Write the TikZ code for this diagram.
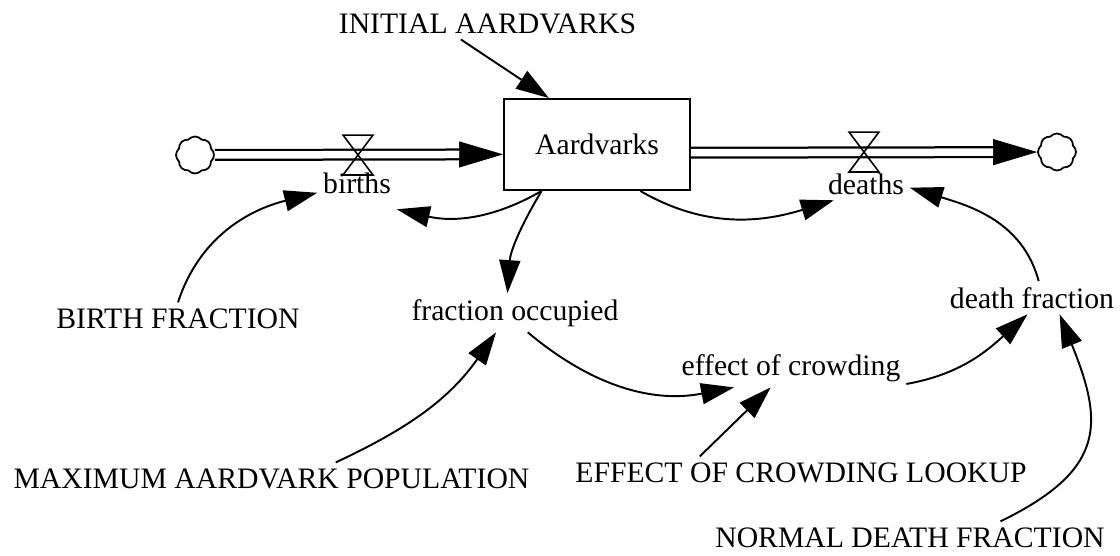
\documentclass[tikz,border=0pt]{standalone}
\usepackage{fontspec}
\setmainfont{Liberation Serif}
\usetikzlibrary{arrows.meta,shapes,positioning}

\tikzset{
  pipe/.style={double, double distance=0.15cm, line width=0.045cm},
  flowtip/.style={-{Triangle[length=0.88cm,width=0.52cm]}, line width=0.4pt},
  cloudnode/.style={cloud, cloud puffs=8, cloud puff arc=100, aspect=1, draw, line width=1pt,
    minimum width=0.76cm, minimum height=0.74cm, inner sep=0pt},
  valvenode/.style={minimum width=0.56cm, minimum height=0.76cm, inner sep=0pt},
  lbl/.style={anchor=base}
}

\begin{document}
\begin{tikzpicture}[-, >={Triangle[length=0.66cm,width=0.42cm]}, line width=1.1pt,
  every node/.style={font=\fontsize{16.9pt}{20pt}\selectfont, inner sep=0.1cm}]
  \useasboundingbox (0,0) rectangle (22.4,-11.1);

  \node[draw, minimum width=3.72cm, minimum height=1.82cm] (aard) at (11.94,-2.89) {Aardvarks};
  \node[cloudnode] (c1) at (3.9,-3.1) {};
  \node[cloudnode] (c2) at (21.14,-3.04) {};
  \node[valvenode] (v1) at (7.16,-3.1) {};
  \node[valvenode] (v2) at (17.28,-3.04) {};

  \node[lbl] (initial) at (9.75,-0.66) {INITIAL AARDVARKS};
  \node[lbl] (births) at (7.14,-3.86) {births};
  \node[lbl] (deaths) at (17.32,-3.88) {deaths};
  \node[lbl] (focc) at (10.3,-6.4) {fraction occupied};
  \node[lbl] (dfrac) at (20.64,-6.16) {death fraction};
  \node[lbl] (effect) at (15.82,-7.5) {effect of crowding};
  \node[lbl] (bfrac) at (3.56,-6.56) {BIRTH FRACTION};
  \node[lbl] (maxpop) at (5.43,-9.76) {MAXIMUM AARDVARK POPULATION};
  \node[lbl] (lookup) at (16.02,-9.64) {EFFECT OF CROWDING LOOKUP};
  \node[lbl] (normal) at (18.2,-10.94) {NORMAL DEATH FRACTION};

  \draw[flowtip] (c1) -- (aard.186);
  \draw[pipe, shorten >=0.88cm] (c1) -- (aard.186);
  \draw[flowtip] (aard.-5) -- (c2);
  \draw[pipe, shorten >=0.88cm] (aard.-5) -- (c2);
  \draw[line width=0.9pt] (v1.north west) -- (v1.north east) -- (v1.south west) -- (v1.south east) -- cycle;
  \draw[line width=0.9pt] (v2.north west) -- (v2.north east) -- (v2.south west) -- (v2.south east) -- cycle;

  \path[->] (initial.211) edge (aard.136);
  \path[->] (bfrac.north) edge[out=72, in=194] (births.194);
  \path[->] (aard.220) edge[out=210, in=-13] ([yshift=-0.2cm]births.south east);
  \path[->] (aard.220) edge[out=239, in=86] (focc.111);
  \path[->] (aard.-47) edge[out=-30, in=197] (deaths.207);
  \path[->] (dfrac.68) edge[out=105, in=-17] (deaths.-5);
  \path[->] (focc.-57) edge[out=-40, in=191] (effect.199);
  \path[->] (lookup.171) edge (effect.224);
  \path[->] (effect.-8) edge[out=10, in=222] (dfrac.255);
  \path[->] (normal.10) edge[out=26, in=-68, looseness=1.4] (dfrac.-31);
  \path[->] (maxpop.14) edge[out=25, in=235] (focc.226);

\end{tikzpicture}
\end{document}
